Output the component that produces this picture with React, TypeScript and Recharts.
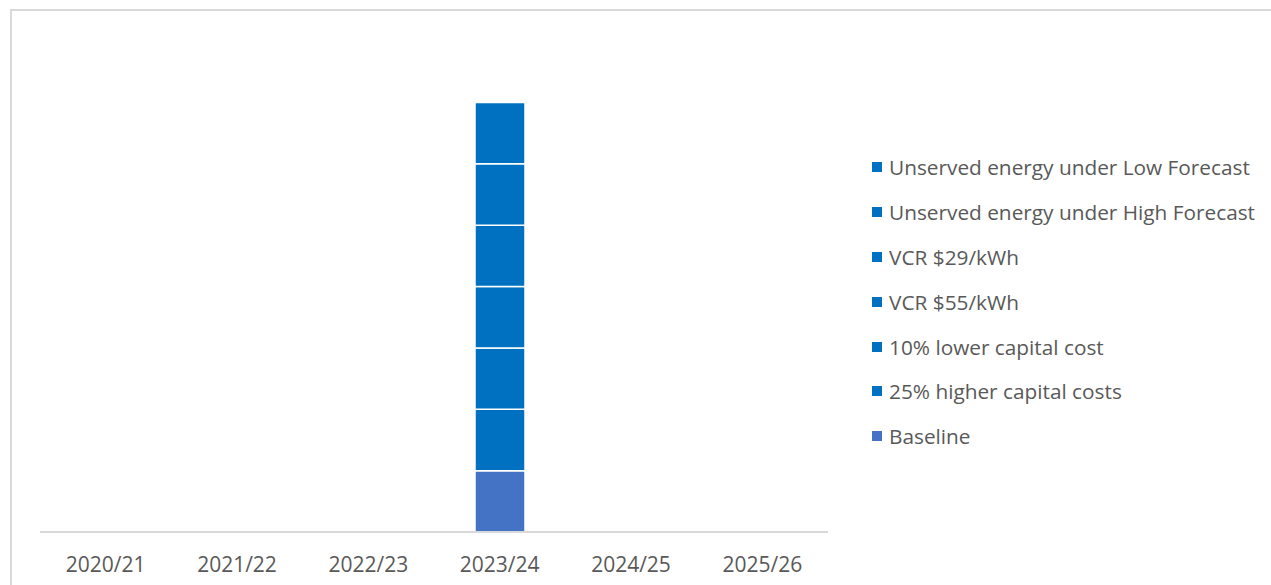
import React from "react";
import { BarChart, Bar, XAxis, YAxis } from "recharts";

const years = ["2020/21", "2021/22", "2022/23", "2023/24", "2024/25", "2025/26"];

// stack order, bottom to top
const seriesKeys = ["baseline", "cap25", "cap10", "vcr55", "vcr29", "highFc", "lowFc"];
const seriesLabels = [
  "Baseline",
  "25% higher capital costs",
  "10% lower capital cost",
  "VCR $55/kWh",
  "VCR $29/kWh",
  "Unserved energy under High Forecast",
  "Unserved energy under Low Forecast",
];
const seriesColors = ["#4472C4", "#0070C0", "#0070C0", "#0070C0", "#0070C0", "#0070C0", "#0070C0"];

const baseline = [0, 0, 0, 1, 0, 0];
const cap25 = [0, 0, 0, 1, 0, 0];
const cap10 = [0, 0, 0, 1, 0, 0];
const vcr55 = [0, 0, 0, 1, 0, 0];
const vcr29 = [0, 0, 0, 1, 0, 0];
const highFc = [0, 0, 0, 1, 0, 0];
const lowFc = [0, 0, 0, 1, 0, 0];

const seriesValues = [baseline, cap25, cap10, vcr55, vcr29, highFc, lowFc];

const data = years.map((year, i) => {
  const row: Record<string, string | number> = { year };
  seriesKeys.forEach((k, s) => {
    row[k] = seriesValues[s][i];
  });
  return row;
});

const FONT = "'Open Sans', 'Noto Sans', sans-serif";

function LegendBox() {
  const items = seriesKeys.map((k, i) => ({ key: k, label: seriesLabels[i], color: seriesColors[i] })).reverse();
  return (
    <div style={{ fontFamily: FONT, fontSize: 20.8, color: "#595959" }}>
      {items.map((it) => (
        <div key={it.key} style={{ display: "flex", alignItems: "center", height: 44.8 }}>
          <span style={{ width: 10, height: 10, background: it.color, marginRight: 7, display: "inline-block", flexShrink: 0 }} />
          <span style={{ whiteSpace: "nowrap" }}>{it.label}</span>
        </div>
      ))}
    </div>
  );
}

export default function App() {
  return (
    <div
      style={{
        position: "absolute",
        left: 0,
        top: 0,
        width: 1271,
        height: 585,
        background: "#fff",
        overflow: "hidden",
      }}
    >
      <div
        style={{
          position: "absolute",
          left: 10,
          top: 9,
          width: 1300,
          height: 620,
          border: "2px solid #d9d9d9",
          boxSizing: "border-box",
        }}
      />
      <div style={{ position: "absolute", left: 0, top: 0 }}>
        <BarChart
          width={1271}
          height={585}
          data={data}
          margin={{ top: 41, right: 443, bottom: 13, left: 40 }}
        >
          <XAxis
            dataKey="year"
            axisLine={{ stroke: "#d9d9d9", strokeWidth: 2 }}
            tickLine={false}
            height={40}
            tick={{ fontSize: 21, fill: "#595959", fontFamily: FONT }}
            dy={17}
          />
          <YAxis hide domain={[0, 8]} />
          {seriesKeys.map((k, i) => (
            <Bar
              key={k}
              dataKey={k}
              name={seriesLabels[i]}
              stackId="a"
              fill={seriesColors[i]}
              stroke="#ffffff"
              strokeWidth={1.5}
              barSize={50}
              isAnimationActive={false}
            />
          ))}
        </BarChart>
      </div>
      <div style={{ position: "absolute", left: 872, top: 145 }}>
        <LegendBox />
      </div>
    </div>
  );
}
